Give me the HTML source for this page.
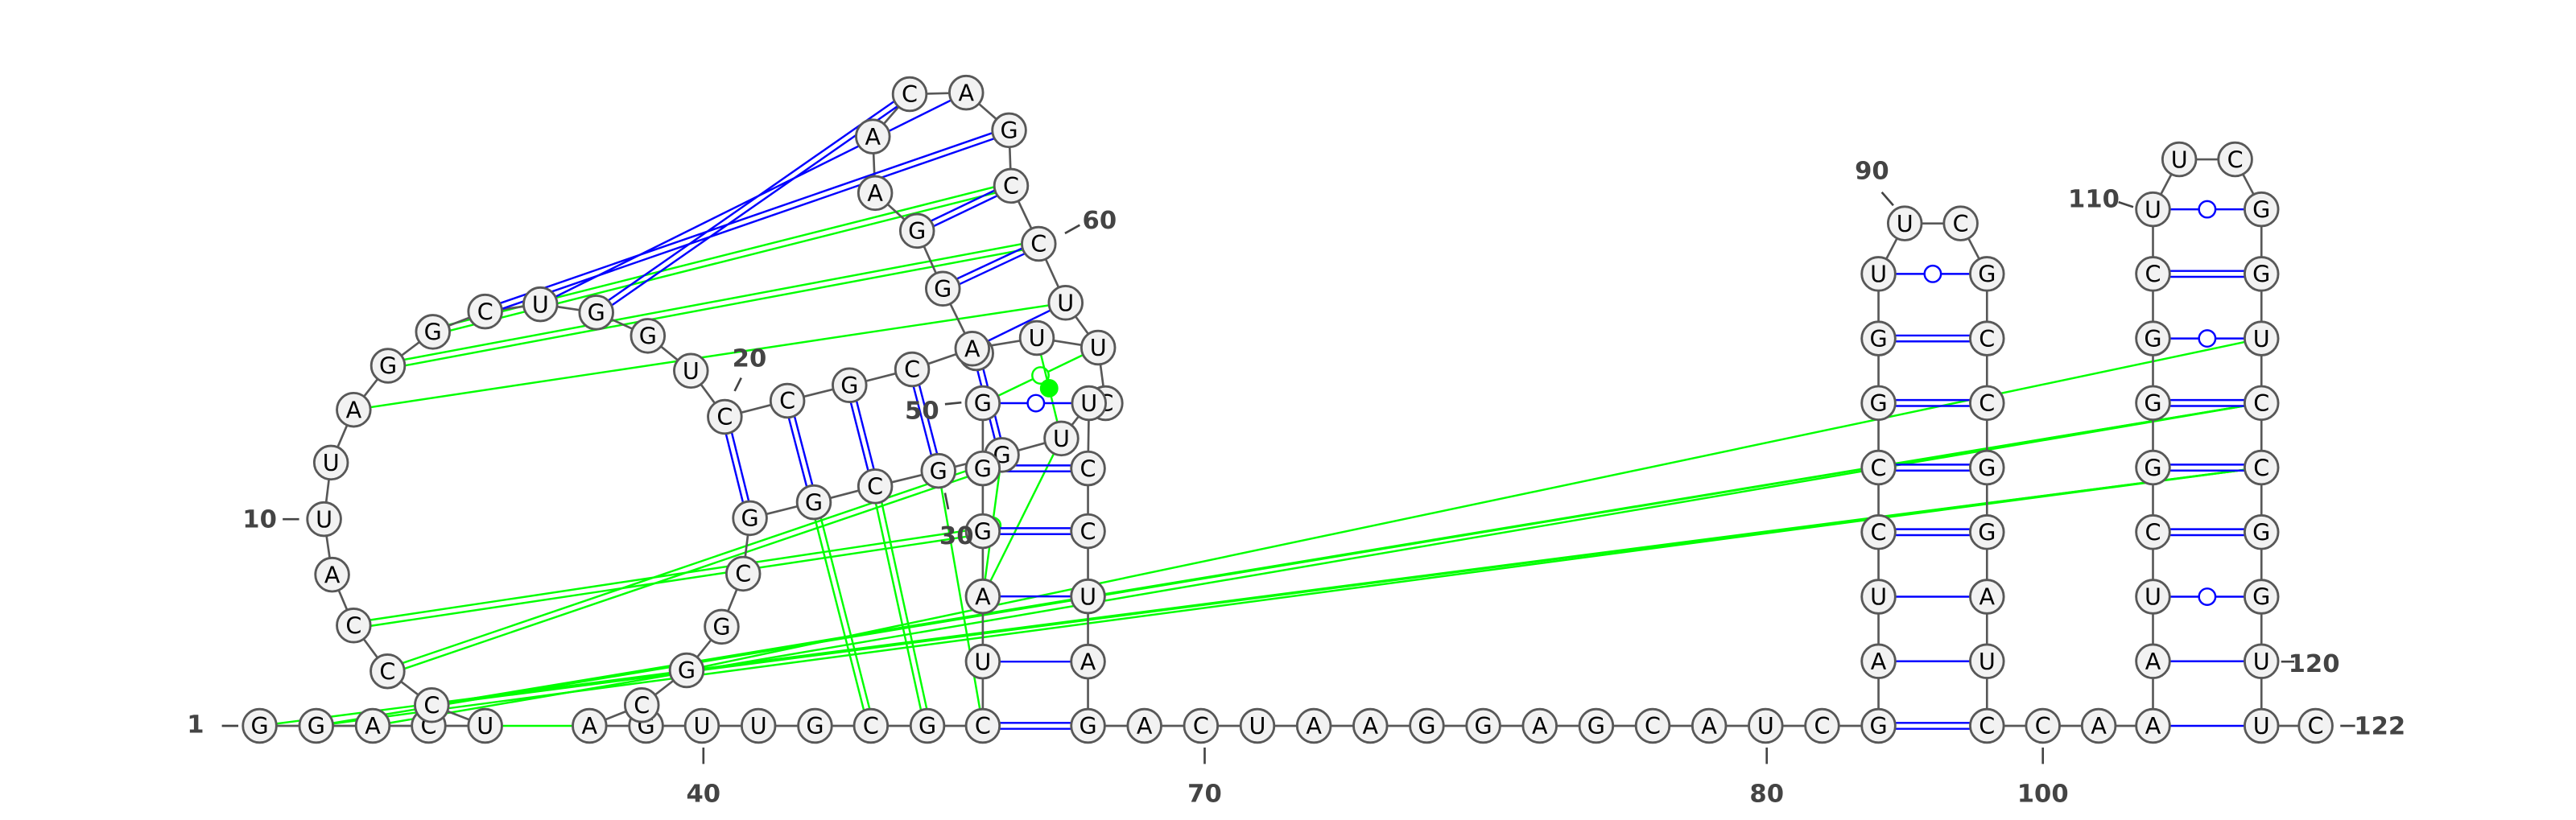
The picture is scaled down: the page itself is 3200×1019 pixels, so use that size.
<!DOCTYPE html>
<html><head><meta charset="utf-8">
<style>
html,body{margin:0;padding:0;background:#fff;}
svg{display:block;}
</style></head>
<body>
<svg id="chart" width="3200" height="1019" viewBox="0 0 1567.4 499.1" xmlns="http://www.w3.org/2000/svg">
<g id="links"></g><g id="backbone"></g><g id="pairs"></g><g id="nts"></g><g id="labels"></g>
</svg>
<script>
// nucleotides: [name, letter, x, y]
const nucleotides = [
['b1','G',158,441.8],['b2','G',192.4,441.8],['b3','A',226.8,441.8],['b4','C',260.8,441.8],['b5','U',295.2,441.8],
['b6','A',358.7,441.8],['b7','G',393.1,441.8],['b8','U',427.1,441.8],['b9','U',461.5,441.8],['b10','G',495.9,441.8],
['b11','C',529.9,441.8],['b12','G',564.3,441.8],['b13','C',598,441.8],
['L1','C',262.7,429.2],['L2','C',235.8,408.6],['L3','C',215.2,380.7],['L4','A',202.1,349.8],['L5','U',197.2,316],
['L6','U',201.4,281.6],['L7','A',215.2,249.4],['L8','G',236.1,222.6],['L9','G',263.4,202],['L10','C',295.2,189.6],
['L11','U',328.8,185.2],['L12','G',362.8,190.2],['L13','G',394.2,204.4],['L14','U',420.4,225.7],['L15','C',441,253.7],
['t2','C',479.1,243.9],['t3','G',516.9,234.5],['t4','C',555,224.8],
['d1','G',456.3,315.4],['d2','G',495.2,305.7],['d3','C',532.5,296],['d4','G',571,286.6],
['d5','C',452.2,349.2],['d6','G',439.1,381.5],['d7','G',417.8,408],['d8','C',390.5,429.2],
['a0','A',594,215],
['e0','C',672.7,245.4],['e1','U',662.6,245.4],['e2','C',662,285.1],['e3','C',662,323.3],['e4','U',662,363],['e5','A',662,402.7],
['m1','G',609.6,276.9],
['c1','G',598,245.4],['c2','G',598,285.1],['c3','G',598,323.3],['c4','A',598,363],['c5','U',598,402.7],
['m2','U',645.8,266.9],['a1','A',591.6,212.2],['u1','U',630.9,205.7],['u2','U',668.2,211.6],
['h1','G',573.7,175.7],['h2','G',558,140.5],['h3','A',532.5,117.5],['h4','A',531.1,83.1],['h5','C',553.5,57.3],
['h6','A',587.9,56.4],['h7','G',614,79.3],['h8','C',615.2,113.1],['h9','C',632,148.4],['h10','U',648.4,184.3]
];
const tailLetters = ['G','A','C','U','A','A','G','G','A','G','C','A','U','C'];
const stemALeft  = ['G','A','U','C','C','G','G','U'];
const stemARight = ['C','U','A','G','G','C','C','G'];
const stemATypes = ['d','s','s','d','d','d','d','o'];
const stemALoop  = ['U','C'];
const linkerLetters = ['C','A'];
const stemBLeft  = ['A','A','U','C','G','G','G','C','U'];
const stemBRight = ['U','U','G','G','C','C','U','G','G'];
const stemBTypes = ['s','s','o','d','d','d','o','d','o'];
const stemBLoop  = ['U','C'];
const endLetter = 'C';

const P = {};
nucleotides.forEach(n => P[n[0]] = {l:n[1], x:n[2], y:n[3]});
const rowY = k => 441.8 - 39.3*k;
tailLetters.forEach((l,k)=>{ P['r'+k] = {l, x:662+34.36*k, y:441.8}; });
stemALeft.forEach((l,k)=>{ P['sa'+k] = {l, x:1143, y:rowY(k)}; });
stemARight.forEach((l,k)=>{ P['sb'+k] = {l, x:1209, y:rowY(k)}; });
P['la0']={l:stemALoop[0],x:1159,y:136}; P['la1']={l:stemALoop[1],x:1193,y:136};
P['k0']={l:linkerLetters[0],x:1243,y:441.8}; P['k1']={l:linkerLetters[1],x:1277,y:441.8};
stemBLeft.forEach((l,k)=>{ P['ta'+k] = {l, x:1310, y:rowY(k)}; });
stemBRight.forEach((l,k)=>{ P['tb'+k] = {l, x:1376, y:rowY(k)}; });
P['lb0']={l:stemBLoop[0],x:1326,y:97}; P['lb1']={l:stemBLoop[1],x:1360,y:97};
P['end']={l:endLetter,x:1409,y:441.8};

const chains = [
['b1','b2','b3','b4','b5'],
['b5','L1','L2','L3','L4','L5','L6','L7','L8','L9','L10','L11','L12','L13','L14','L15','t2','t3','t4','a1','u1','u2','e0'],
['b6','d8','d7','d6','d5','d1','d2','d3','d4','m1','m2','e1'],
['b6','b7','b8','b9','b10','b11','b12','b13','c5','c4','c3','c2','c1'],
['a1','h1','h2','h3','h4','h5','h6','h7','h8','h9','h10','u2'],
['e1','e2','e3','e4','e5','r0'],
['r0','r1','r2','r3','r4','r5','r6','r7','r8','r9','r10','r11','r12','r13'],
['r13','sa0','sa1','sa2','sa3','sa4','sa5','sa6','sa7','la0','la1','sb7','sb6','sb5','sb4','sb3','sb2','sb1','sb0','k0','k1','ta0','ta1','ta2','ta3','ta4','ta5','ta6','ta7','ta8','lb0','lb1','tb8','tb7','tb6','tb5','tb4','tb3','tb2','tb1','tb0','end']
];
const bluePairs = [
['L15','d1','d'],['t2','d2','d'],['t3','d3','d'],['t4','d4','d'],
['b13','r0','d'],['c5','e5','s'],['c4','e4','s'],['c3','e3','d'],['c2','e2','d'],['c1','e1','o'],
['a0','m1','d'],['a1','h10','s'],['h1','h9','d'],['h2','h8','d'],
['L10','h7','d'],['L11','h6','s'],['L12','h5','d']
];
const greenPairs = [
['b5','b6','s'],['L9','h8','d'],['L8','h9','d'],['L7','h10','s'],['L3','c3','d'],['L2','c2','d'],
['d2','b11','d'],['d3','b12','d'],['d4','b13','s'],['c1','u2','o'],['u1','m2','f'],['c4','m2','s'],['m1','c4','o'],
['b1','tb4','s'],['b2','tb4','s'],['b2','tb5','s'],['b3','tb5','s'],['L1','tb4','s'],['d7','tb6','s'],['L1','tb5','s']
];

const NS='http://www.w3.org/2000/svg';
function mk(tag, attrs, parent){ const e=document.createElementNS(NS,tag); for(const k in attrs) e.setAttribute(k,attrs[k]); parent.appendChild(e); return e; }
const gB=document.getElementById('backbone'), gP=document.getElementById('pairs'), gL=document.getElementById('links'), gN=document.getElementById('nts'), gT=document.getElementById('labels');

chains.forEach(ch=>{ for(let i=0;i<ch.length-1;i++){ const a=P[ch[i]], b=P[ch[i+1]];
  const ln=mk('line',{x1:a.x,y1:a.y,x2:b.x,y2:b.y,stroke:'#585858','stroke-width':1.3},gB);
  
  
}});

function drawPair(a,b,type,color,parent,nm){
  const A=P[a],B=P[b]; const dx=B.x-A.x, dy=B.y-A.y, L=Math.hypot(dx,dy)||1; const nx=-dy/L*1.8, ny=dx/L*1.8;
  const g=mk('g',{},parent);
  
  
  if(type==='d'){
    mk('line',{x1:A.x+nx,y1:A.y+ny,x2:B.x+nx,y2:B.y+ny,stroke:color,'stroke-width':1.2},g);
    mk('line',{x1:A.x-nx,y1:A.y-ny,x2:B.x-nx,y2:B.y-ny,stroke:color,'stroke-width':1.2},g);
  } else {
    mk('line',{x1:A.x,y1:A.y,x2:B.x,y2:B.y,stroke:color,'stroke-width':1.2},g);
    if(type==='o') mk('circle',{cx:(A.x+B.x)/2,cy:(A.y+B.y)/2,r:5,fill:'#fff',stroke:color,'stroke-width':1.2},g);
    if(type==='f') mk('circle',{cx:(A.x+B.x)/2,cy:(A.y+B.y)/2,r:5,fill:color,stroke:color,'stroke-width':1.2},g);
  }
}
greenPairs.forEach(p=>drawPair(p[0],p[1],p[2],'#00ff00',gL,'tertiary-interaction'));
bluePairs.forEach(p=>drawPair(p[0],p[1],p[2],'#0000ff',gP,'base-pair'));
stemATypes.forEach((t,k)=>drawPair('sa'+k,'sb'+k,t,'#0000ff',gP,'base-pair'));
stemBTypes.forEach((t,k)=>drawPair('ta'+k,'tb'+k,t,'#0000ff',gP,'base-pair'));

Object.keys(P).forEach(k=>{ const n=P[k];
  const g=mk('g',{},gN);
  
  
  mk('circle',{cx:n.x,cy:n.y,r:10.2,fill:'#f2f2f2',stroke:'#585858','stroke-width':1.4},g);
  const t=mk('text',{x:n.x,y:n.y+5,'text-anchor':'middle','font-size':14,'font-family':'DejaVu Sans, Liberation Sans, sans-serif',fill:'#000'},g);
  t.textContent=n.l;
});

const labelTexts = ['1','10','20','30','40','50','60','70','80','90','100','110','120','122'];
const labelGeom = [
[119,446,'middle',135,441.8,145,441.8],[158,321,'middle',172,316,182,316],[456,223,'middle',451,230,447,238],
[582,331,'middle',575,300,577,310],[428,488,'middle',428,455,428,465],[561,255,'middle',575,246,585,245],
[669,139,'middle',648,142,657,137],[733,488,'middle',733,455,733,465],[1075,488,'middle',1075,455,1075,465],
[1139,109,'middle',1145,117,1152,125],[1243,488,'middle',1243,455,1243,465],[1274,126,'middle',1289,123,1298,126],
[1408,409,'middle',1388,402.7,1396,402.7],[1448,447,'middle',1424,441.8,1433,441.8]
];
labelTexts.forEach((s,i)=>{ const g=labelGeom[i];
  const gg=mk('g',{},gT);
  
  
  mk('line',{x1:g[3],y1:g[4],x2:g[5],y2:g[6],stroke:'#444','stroke-width':1.3},gg);
  const t=mk('text',{x:g[0],y:g[1],'text-anchor':g[2],'font-size':15,'font-weight':'bold','font-family':'DejaVu Sans, Liberation Sans, sans-serif',fill:'#444'},gg);
  t.textContent=s;
});
</script>
</body></html>
